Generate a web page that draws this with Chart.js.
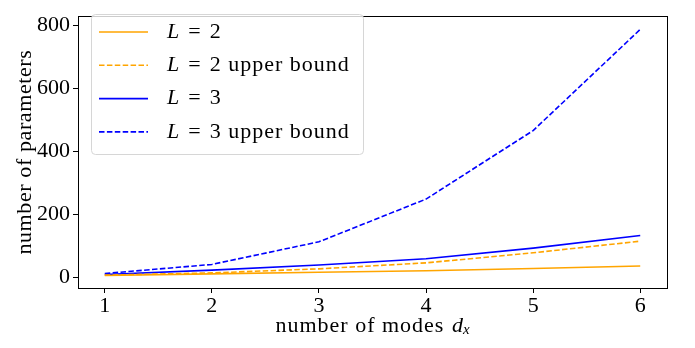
<!DOCTYPE html>
<html>
<head>
<meta charset="utf-8">
<script src="https://cdn.jsdelivr.net/npm/chart.js@4"></script>
<style>
  html, body { margin: 0; padding: 0; background: #fff; }
  #wrap { width: 695px; height: 348px; }
</style>
</head>
<body>
<div id="wrap"><canvas id="curvas"></canvas></div>
<script>
// numero de modos d_x
const modes = [1, 2, 3, 4, 5, 6];
// parametros por profundidade
const paramsL2 = [5, 10, 15, 20, 27, 35];
const boundL2 = [6, 13, 26, 45, 77, 114];
const paramsL3 = [8, 22, 38, 58, 92, 132];
const boundL3 = [11, 40, 112, 248, 466, 788];
const yTicks = [0, 200, 400, 600, 800];
const xTicks = [1, 2, 3, 4, 5, 6];

const SERIF = "'Liberation Serif', 'DejaVu Serif', serif";
const FS = 22;

function serie(label, data, cor, tracejado) {
	return {
		label: label,
		data: modes.map((m, i) => ({ x: m, y: data[i] })),
		borderColor: cor,
		backgroundColor: cor,
		borderWidth: 1.6,
		borderDash: tracejado ? [5.5, 2.4] : [],
		pointRadius: 0,
		tension: 0
	};
}

// escreve pedacos de texto em sequencia (italico, subscrito...)
function textoMath(ctx, partes, x, y) {
	partes.forEach(p => {
		ctx.font = (p.it ? "italic " : "") + (p.size || FS) + "px " + SERIF;
		ctx.letterSpacing = (p.ls === undefined ? 1 : p.ls) + "px";
		ctx.fillText(p.t, x, y + (p.dy || 0));
		x += ctx.measureText(p.t).width + (p.gap || 0);
	});
	ctx.letterSpacing = "0px";
	return x;
}

function larguraMath(ctx, partes) {
	let w = 0;
	partes.forEach(p => {
		ctx.font = (p.it ? "italic " : "") + (p.size || FS) + "px " + SERIF;
		ctx.letterSpacing = (p.ls === undefined ? 1 : p.ls) + "px";
		w += ctx.measureText(p.t).width + (p.gap || 0);
	});
	ctx.letterSpacing = "0px";
	return w;
}

// "L = 2 upper bound" -> L italico e espacos maiores em volta do "="
function partesLegenda(label) {
	const m = label.match(/^(\S+) = (\S+)(.*)$/);
	return [
		{ t: m[1], it: true, gap: 8 },
		{ t: "=", gap: 8 },
		{ t: m[2] + m[3] }
	];
}

const moldura = {
	id: 'moldura',
	afterDraw(chart) {
		const ctx = chart.ctx;
		const a = chart.chartArea;
		ctx.save();

		// caixa do grafico
		ctx.strokeStyle = '#000';
		ctx.lineWidth = 1;
		ctx.strokeRect(Math.round(a.left) + 0.5, Math.round(a.top) + 0.5,
			Math.round(a.right - a.left), Math.round(a.bottom - a.top));

		// legenda
		const lx = 91, ly = 14, lw = 272, lh = 140;
		ctx.beginPath();
		ctx.roundRect(lx + 0.5, ly + 0.5, lw, lh, 4);
		ctx.fillStyle = 'rgba(255,255,255,0.8)';
		ctx.fill();
		ctx.strokeStyle = '#d6d6d6';
		ctx.stroke();

		ctx.textBaseline = 'middle';
		chart.data.datasets.forEach((ds, i) => {
			const y = 32 + i * 33.3;
			ctx.beginPath();
			ctx.setLineDash(ds.borderDash);
			ctx.strokeStyle = ds.borderColor;
			ctx.lineWidth = ds.borderWidth;
			ctx.moveTo(99, y);
			ctx.lineTo(148, y);
			ctx.stroke();
			ctx.setLineDash([]);
			ctx.fillStyle = '#000';
			textoMath(ctx, partesLegenda(ds.label), 167, y);
		});

		// titulo do eixo x: number of modes d_x
		const partes = [
			{ t: "number of modes ", gap: 1 },
			{ t: "d", it: true, ls: 0 },
			{ t: "x", it: true, size: 15, dy: 4, ls: 0 }
		];
		const w = larguraMath(ctx, partes);
		const cx = (a.left + a.right) / 2;
		textoMath(ctx, partes, cx - w / 2, 326);

		// titulo do eixo y
		const ty = [{ t: "number of parameters", ls: 0.6 }];
		const wy = larguraMath(ctx, ty);
		ctx.translate(25, (a.top + a.bottom) / 2);
		ctx.rotate(-Math.PI / 2);
		textoMath(ctx, ty, -wy / 2, 0);

		ctx.restore();
	}
};

const grafico = new Chart(document.getElementById("curvas"), {
	type: 'line',
	data: {
		datasets: [
			serie("L = 2", paramsL2, '#FFA500', false),
			serie("L = 2 upper bound", boundL2, '#FFA500', true),
			serie("L = 3", paramsL3, '#0000FF', false),
			serie("L = 3 upper bound", boundL3, '#0000FF', true)
		]
	},
	options: {
		responsive: true,
		maintainAspectRatio: false,
		animation: false,
		layout: { padding: { top: 3, right: 28, left: 0, bottom: 0 } },
		plugins: {
			legend: { display: false },
			tooltip: { enabled: false }
		},
		scales: {
			x: {
				type: 'linear',
				min: 0.75,
				max: 6.25,
				afterBuildTicks: s => { s.ticks = xTicks.map(v => ({ value: v })); },
				afterFit: s => { s.height = 60; },
				grid: { drawOnChartArea: false, tickLength: 5, color: '#000', tickWidth: 1 },
				border: { color: '#000' },
				ticks: {
					color: '#000',
					padding: 0,
					maxRotation: 0,
					font: { family: SERIF, size: FS }
				}
			},
			y: {
				min: -35,
				max: 830,
				afterBuildTicks: s => { s.ticks = yTicks.map(v => ({ value: v })); },
				afterFit: s => { s.width = 78; },
				grid: { drawOnChartArea: false, tickLength: 5, color: '#000', tickWidth: 1 },
				border: { color: '#000' },
				ticks: {
					color: '#000',
					padding: 3,
					font: { family: SERIF, size: FS }
				}
			}
		}
	},
	plugins: [moldura]
});
</script>
</body>
</html>
